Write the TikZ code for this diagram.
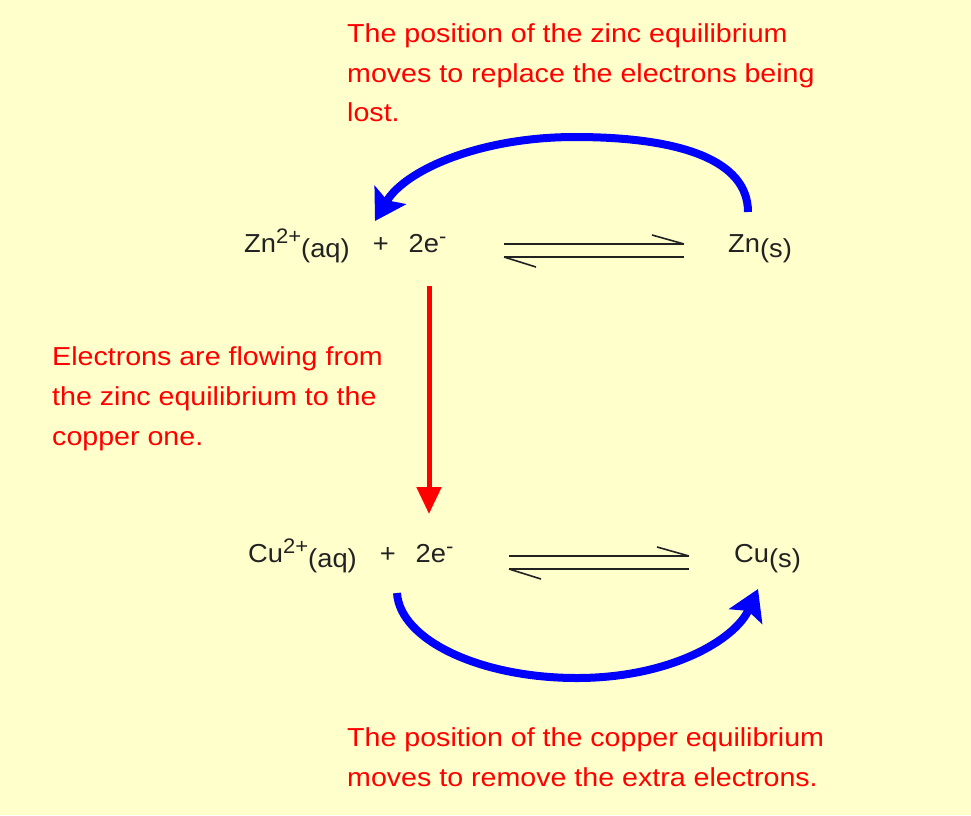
\documentclass[tikz,border=0pt]{standalone}
\usepackage{fontspec}
\setmainfont{Liberation Sans}
\newfontfamily\notefont[FakeStretch=1.1]{Liberation Sans}
\newfontfamily\chemfont[FakeStretch=1.05]{Liberation Sans}
\usetikzlibrary{arrows.meta}
\definecolor{bgyellow}{HTML}{FFFFCC}
\definecolor{txtred}{HTML}{FF0000}
\definecolor{arcblue}{HTML}{0000FF}
\definecolor{chemblack}{HTML}{222222}
\newcommand{\chsup}[1]{\raisebox{9pt}{\fontsize{21}{21}\selectfont #1}}
\newcommand{\chsub}[1]{\raisebox{-5pt}{#1}}
\begin{document}
\begin{tikzpicture}[x=1pt,y=-1pt,
  note/.style={inner sep=0pt,anchor=base west,text=txtred,font=\notefont\fontsize{26}{40}\selectfont},
  chem/.style={inner sep=0pt,anchor=base west,text=chemblack,font=\chemfont\fontsize{26}{30}\selectfont},
  eqline/.style={line width=2.6pt,chemblack},
  barb/.style={line width=1.6pt,chemblack},
  bluearc/.style={line width=8pt,arcblue,-{Stealth[length=30pt,width=36pt,inset=6pt]}},
  redarrow/.style={line width=5pt,txtred,-{Triangle[length=27pt,width=24pt]}}]
\fill[bgyellow] (0,0) rectangle (971,815);
\useasboundingbox (0,0) rectangle (971,815);
% top note
\node[note] (t1) at (347,42) {The position of the zinc equilibrium};
\node[note] (t2) at (347,82) {moves to replace the electrons being};
\node[note] (t3) at (347,121) {lost.};
% left note
\node[note] (l1) at (52,365) {Electrons are flowing from};
\node[note] (l2) at (52,405) {the zinc equilibrium to the};
\node[note] (l3) at (52,445) {copper one.};
% bottom note
\node[note] (b1) at (347,746) {The position of the copper equilibrium};
\node[note] (b2) at (347,786) {moves to remove the extra electrons.};
% zinc equilibrium
\node[chem] (znl) at (244,252) {Zn\chsup{2+}\chsub{(aq)}\hspace{23pt}+\hspace{20pt}2e\chsup{-}};
\node[chem] (znr) at (728,252) {Zn\chsub{(s)}};
\coordinate (zna) at (504,244);
\coordinate (znb) at (684,244);
\coordinate (znc) at (504,257);
\coordinate (znd) at (684,257);
\draw[eqline] (zna) -- (znb);
\draw[eqline] (znc) -- (znd);
\draw[barb] (znb) -- ++(-32,-9);
\draw[barb] (znc) -- ++(32,10);
% copper equilibrium
\node[chem] (cul) at (248,562) {Cu\chsup{2+}\chsub{(aq)}\hspace{23pt}+\hspace{20pt}2e\chsup{-}};
\node[chem] (cur) at (734,562) {Cu\chsub{(s)}};
\coordinate (cua) at (509,556);
\coordinate (cub) at (689,556);
\coordinate (cuc) at (509,569);
\coordinate (cud) at (689,569);
\draw[eqline] (cua) -- (cub);
\draw[eqline] (cuc) -- (cud);
\draw[barb] (cub) -- ++(-32,-9);
\draw[barb] (cuc) -- ++(32,10);
% red arrow
\coordinate (rs) at (429,286);
\coordinate (re) at (429,514);
\draw[redarrow] (rs) -- (re);
% blue arcs
\coordinate (ta) at (748,212);
\coordinate (tb) at (375,221);
\draw[bluearc] (ta) .. controls (748,160) and (680,137) .. (575,137)
  .. controls (480,137) and (405,170) .. (tb);
\coordinate (ba) at (397,593);
\coordinate (bb) at (758,589);
\draw[bluearc] (ba) .. controls (400,640) and (480,678) .. (577,678)
  .. controls (670,678) and (735,640) .. (bb);
\end{tikzpicture}
\end{document}
